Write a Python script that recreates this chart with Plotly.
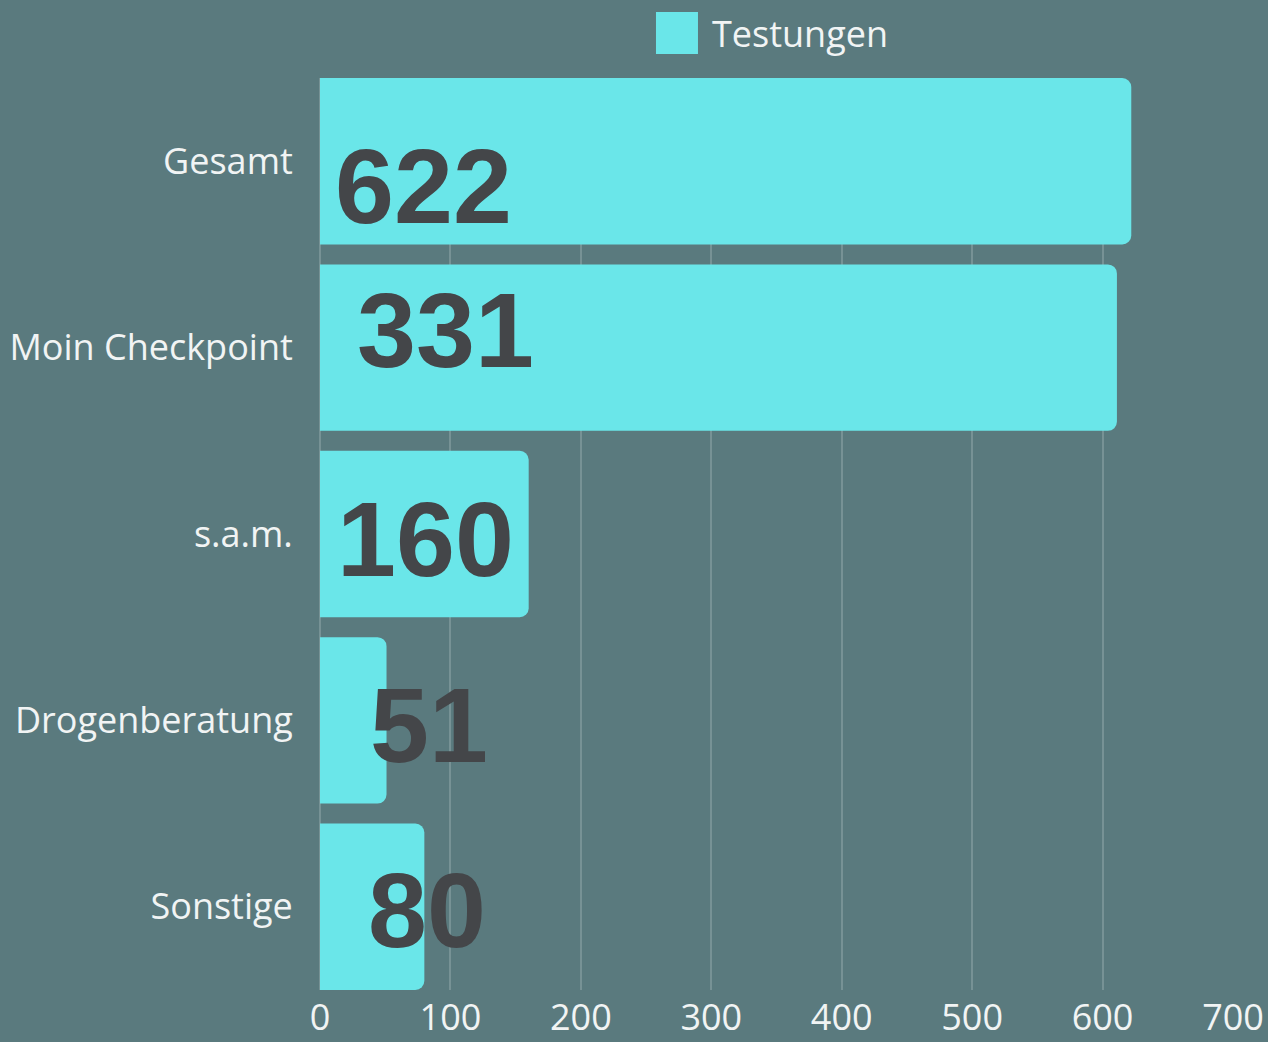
import plotly.graph_objects as go

categories = ["Gesamt", "Moin Checkpoint", "s.a.m.", "Drogenberatung", "Sonstige"]
bar_values = [622, 611, 160, 51, 80]
label_texts = ["622", "331", "160", "51", "80"]
series_name = "Testungen"
x_ticks = [0, 100, 200, 300, 400, 500, 600, 700]

# styling
BG = "#5a7a7e"
BAR = "#6ae6e9"
LABEL_COLOR = "#444649"
TICK_COLOR = "#f1f4f4"
BARGAP = 0.107
label_xshift = [103, 125, 105, 109, 107]
label_yshift = [-25, 18, -5, -5, -3]

fig = go.Figure()
fig.add_trace(go.Bar(
    y=categories, x=bar_values, orientation="h",
    marker=dict(color=BAR, cornerradius=9, line=dict(width=0)),
    name=series_name, showlegend=False,
))

for i, (cat, txt) in enumerate(zip(categories, label_texts)):
    fig.add_annotation(
        x=0, y=cat, xref="x", yref="y", text=txt, showarrow=False,
        xanchor="center", yanchor="middle",
        xshift=label_xshift[i], yshift=label_yshift[i],
        font=dict(family="Liberation Sans", size=106, color=LABEL_COLOR, weight="bold"),
    )

# legend (custom large swatch)
fig.add_shape(type="rect", xref="paper", yref="paper",
              x0=0.368, x1=0.414, y0=1.0263, y1=1.0724,
              fillcolor=BAR, line=dict(width=0))
fig.add_annotation(xref="paper", yref="paper", x=0.427, y=1.0493,
                   text=series_name, showarrow=False, xanchor="left", yanchor="middle",
                   font=dict(family="Open Sans", size=36, color=TICK_COLOR))

half = (1 - BARGAP) / 2
fig.update_layout(
    width=1268, height=1042,
    paper_bgcolor=BG, plot_bgcolor=BG,
    margin=dict(l=320, r=35, t=78, b=52, autoexpand=False),
    bargap=BARGAP,
    showlegend=False,
    xaxis=dict(range=[0, 700], tickvals=x_ticks, showgrid=True, automargin=False,
               gridcolor="rgba(255,255,255,0.18)", gridwidth=1.5,
               zeroline=True, zerolinecolor="rgba(255,255,255,0.18)", zerolinewidth=1.5,
               tickfont=dict(family="Open Sans", size=36, color=TICK_COLOR),
               ticks="", ticklabelstandoff=3, showline=False),
    yaxis=dict(range=[len(categories) - 1 + half, -half], showgrid=False, automargin=False,
               tickfont=dict(family="Open Sans", size=36, color=TICK_COLOR),
               ticks="outside", ticklen=19, tickcolor="rgba(0,0,0,0)", showline=False),
)

fig.write_html("out.html", config={"displayModeBar": False},
               post_script="document.body.style.margin='0';document.body.style.overflow='hidden';")
